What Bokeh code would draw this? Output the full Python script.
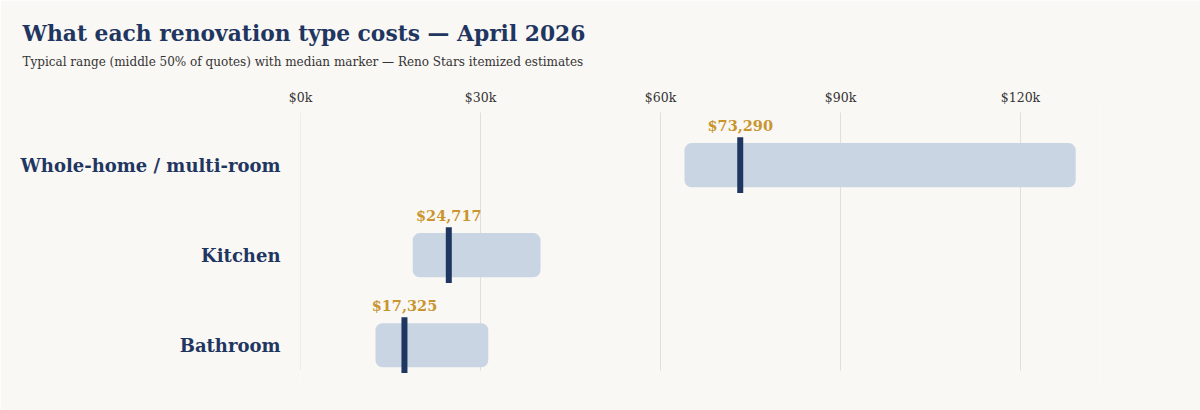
from bokeh.plotting import figure
from bokeh.models import Range1d, FixedTicker, Title, ColumnDataSource
from bokeh.core.properties import value
from bokeh.embed import file_html
from bokeh.resources import INLINE

# ---- data ----
categories = ["Bathroom", "Kitchen", "Whole-home / multi-room"]
q_low = [12500, 18700, 64000]
q_high = [31300, 40000, 129200]
medians = [17325, 24717, 73290]
x_ticks = [0, 30000, 60000, 90000, 120000]
x_tick_labels = ["$0k", "$30k", "$60k", "$90k", "$120k"]

title_text = "What each renovation type costs \u2014 April 2026"
subtitle_text = "Typical range (middle 50% of quotes) with median marker \u2014 Reno Stars itemized estimates"

# ---- style ----
BG = "#faf8f5"
NAVY = "#1f3661"
BAR = "#c9d5e3"
GOLD = "#c9952f"
GRID = "#e2dfda"
SERIF = "DejaVu Serif"

ypos = list(range(len(categories)))
src = ColumnDataSource(dict(
    y=ypos, low=q_low, high=q_high, med=medians,
    lab=["${:,}".format(m) for m in medians],
))

p = figure(width=1200, height=410, output_backend="svg", toolbar_location=None,
           x_axis_location="above", title=None,
           x_range=Range1d(0, 800 / 6 * 1000), y_range=Range1d(-0.448, 2.663),
           min_border_left=300, min_border_right=100, min_border_bottom=25,
           min_border_top=105)
p.background_fill_color = BG
p.border_fill_color = BG
p.outline_line_color = None
p.xgrid.visible = False
p.ygrid.visible = False

# grid lines (limited vertical extent)
p.segment(x0=x_ticks, x1=x_ticks, y0=[-0.281] * len(x_ticks), y1=[2.586] * len(x_ticks),
          line_color=GRID, line_width=1)

# range bars
p.hbar(y="y", left="low", right="high", height=0.49, source=src,
       fill_color=BAR, line_color=None, border_radius=7)

# median markers
src.data["m0"] = [v - 0.31 for v in ypos]
src.data["m1"] = [v + 0.31 for v in ypos]
p.segment(x0="med", x1="med", y0="m0", y1="m1", source=src,
          line_color=NAVY, line_width=6, line_cap="butt")

# median labels
p.text(x="med", y="m1", text="lab", source=src, text_align="center",
       text_baseline="bottom", y_offset=-3, text_color=GOLD,
       text_font=value(SERIF), text_font_style="bold", text_font_size="14.5px")

# x axis (top)
xa = p.xaxis[0]
xa.ticker = FixedTicker(ticks=x_ticks)
xa.major_label_overrides = {t: l for t, l in zip(x_ticks, x_tick_labels)}
xa.axis_line_color = None
xa.major_tick_line_color = None
xa.minor_tick_line_color = None
xa.major_tick_out = 0
xa.major_label_standoff = 1
xa.major_label_text_font = SERIF
xa.major_label_text_font_size = "12.5px"
xa.major_label_text_color = "#333333"

# y axis (left)
ya = p.yaxis[0]
ya.ticker = FixedTicker(ticks=ypos)
ya.major_label_overrides = {i: c for i, c in zip(ypos, categories)}
ya.axis_line_color = None
ya.major_tick_line_color = None
ya.minor_tick_line_color = None
ya.major_tick_out = 0
ya.major_label_standoff = 20
ya.major_label_text_font = SERIF
ya.major_label_text_font_style = "bold"
ya.major_label_text_font_size = "18px"
ya.major_label_text_color = NAVY

# titles
p.add_layout(Title(text=subtitle_text, align="left", offset=-278,
                   text_font=SERIF, text_font_style="normal",
                   text_font_size="12px", text_color="#333333", standoff=36), "above")
p.add_layout(Title(text=title_text, align="left", offset=-278,
                   text_font=SERIF, text_font_style="bold",
                   text_font_size="21.8px", text_color=NAVY, standoff=-22), "above")

open("out.html", "w").write(file_html(p, INLINE))
